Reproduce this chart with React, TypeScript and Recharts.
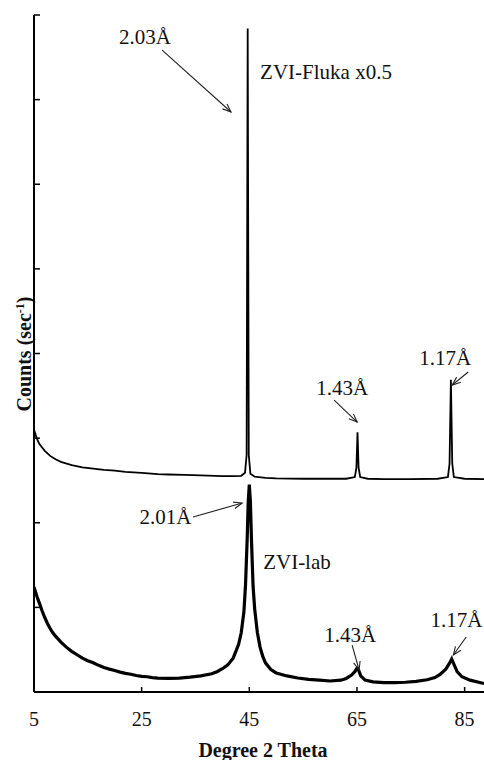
import React from "react";
import { LineChart, Line, XAxis, YAxis, ReferenceLine, ReferenceDot } from "recharts";

// ZVI-Fluka (scaled x0.5)
const flukaTheta = [
  5, 5.5, 6, 7, 8, 9, 10, 12, 14, 16, 18, 20, 22, 25, 28, 30, 33, 36, 40, 42, 43.5, 44.2, 44.5, 44.7,
  44.9, 45.2, 46, 48, 50, 55, 60, 63, 64.6, 64.9, 65.1, 65.3, 65.6, 67, 70, 75, 80, 81.9, 82.2, 82.45,
  82.7, 83, 85, 88.6,
];
const flukaCounts = [
  3100, 3000, 2930, 2850, 2790, 2750, 2720, 2680, 2655, 2640, 2625, 2615, 2600, 2590, 2575, 2570, 2565,
  2560, 2550, 2550, 2555, 2590, 2800, 7840, 2800, 2580, 2545, 2530, 2525, 2520, 2520, 2520, 2540, 2650,
  3070, 2650, 2540, 2520, 2515, 2515, 2520, 2540, 2700, 3690, 2700, 2540, 2520, 2515,
];

// ZVI-lab
const labTheta = [
  5, 5.3, 5.6, 6, 6.5, 7, 7.5, 8, 8.5, 9, 9.5, 10, 11, 12, 13, 14, 15, 16, 17, 18, 19, 20, 21, 22, 23,
  24, 25, 26, 27, 28, 30, 32, 34, 36, 38, 39, 40, 41, 42, 43, 43.5, 44, 44.3, 44.6, 44.8, 45, 45.2, 45.4,
  45.7, 46, 46.5, 47, 47.5, 48, 49, 50, 52, 54, 56, 58, 60, 62, 63, 64, 64.6, 65, 65.3, 65.7, 66.5, 68,
  70, 72, 74, 76, 78, 79.5, 80.5, 81.5, 82.2, 82.6, 83, 83.6, 84.5, 86, 88.6,
];
const labCounts = [
  1240, 1180, 1120, 1050, 960, 880, 810, 750, 700, 660, 625, 590, 530, 480, 440, 400, 370, 345, 315, 290,
  270, 255, 235, 220, 210, 195, 185, 180, 170, 165, 160, 165, 175, 190, 215, 240, 275, 320, 400, 560,
  700, 950, 1270, 1800, 2250, 2450, 2250, 1800, 1250, 980, 700, 530, 420, 345, 265, 225, 190, 165, 150,
  140, 130, 140, 160, 200, 240, 280, 260, 190, 140, 120, 110, 110, 115, 125, 145, 170, 210, 270, 340, 390,
  330, 240, 180, 140, 100,
];

const xTicks = [5, 25, 45, 65, 85];
const yTicks = [0, 1000, 2000, 3000, 4000, 5000, 6000, 7000, 8000];

// peak labels: text, anchor theta, anchor counts, arrow from -> to
const peakLabels = [
  { text: "2.03Å", x: 25.6, y: 7740, from: [28.8, 7586], to: [41.6, 6854] },
  { text: "1.43Å", x: 62.25, y: 3592, from: [60.76, 3450], to: [65.04, 3190] },
  { text: "1.17Å", x: 81.4, y: 3947, from: [85.67, 3781], to: [82.7, 3628] },
  { text: "2.01Å", x: 29.44, y: 2068, from: [34.55, 2068], to: [43.66, 2233] },
  { text: "1.43Å", x: 63.74, y: 674, from: [64.1, 555], to: [65.4, 260] },
  { text: "1.17Å", x: 83.5, y: 851, from: [85.3, 650], to: [82.9, 437] },
];
const seriesLabels = [
  { text: "ZVI-Fluka x0.5", x: 47.0, y: 7326 },
  { text: "ZVI-lab", x: 47.57, y: 1536 },
];

const fluka = flukaTheta.map((t, i) => ({ x: t, y: flukaCounts[i] }));
const lab = labTheta.map((t, i) => ({ x: t, y: labCounts[i] }));

const font = "'Liberation Serif', 'Times New Roman', serif";

const Arrow = (props: any) => {
  const { x1, y1, x2, y2 } = props;
  const a = Math.atan2(y2 - y1, x2 - x1);
  const h = 9;
  const w = 0.38;
  return (
    <g stroke="#222" strokeWidth={1.1} fill="none">
      <line x1={x1} y1={y1} x2={x2} y2={y2} />
      <polyline
        points={`${x2 - h * Math.cos(a - w)},${y2 - h * Math.sin(a - w)} ${x2},${y2} ${x2 - h * Math.cos(a + w)},${y2 - h * Math.sin(a + w)}`}
      />
    </g>
  );
};

const Label = (text: string, anchor: "middle" | "start") => (props: any) => (
  <text
    x={props.cx}
    y={props.cy}
    textAnchor={anchor}
    dominantBaseline="central"
    fontFamily={font}
    fontSize={21}
    fill="#111"
  >
    {text}
  </text>
);

const XTick = (props: any) => {
  const { x, y, payload } = props;
  return (
    <text x={x} y={y + 34} textAnchor="middle" fontFamily={font} fontSize={20} fill="#111">
      {payload.value}
    </text>
  );
};

const NoTick = () => null;

export default function App() {
  return (
    <div style={{ position: "absolute", left: 0, top: 0, background: "#fff" }}>
      <LineChart width={484} height={760} margin={{ top: 15, right: 0, bottom: 0, left: 0 }}>
        <XAxis
          dataKey="x"
          type="number"
          domain={[5, 88.6]}
          ticks={xTicks}
          height={68}
          tickSize={-5}
          tickMargin={5}
          tickLine={{ stroke: "#000", strokeWidth: 1.5 }}
          tick={<XTick />}
          axisLine={{ stroke: "#000", strokeWidth: 2 }}
          allowDataOverflow
        />
        <YAxis
          type="number"
          domain={[0, 8000]}
          ticks={yTicks}
          width={34}
          tickSize={-6}
          tickLine={{ stroke: "#000", strokeWidth: 1.5 }}
          tick={<NoTick />}
          axisLine={{ stroke: "#000", strokeWidth: 2 }}
          allowDataOverflow
        />
        <Line data={lab} dataKey="y" stroke="#000" strokeWidth={3.2} dot={false} isAnimationActive={false} />
        <Line data={fluka} dataKey="y" stroke="#000" strokeWidth={1.8} dot={false} isAnimationActive={false} />
        {peakLabels.map((p, i) => (
          <ReferenceLine
            key={"a" + i}
            segment={[{ x: p.from[0], y: p.from[1] }, { x: p.to[0], y: p.to[1] }]}
            shape={<Arrow />}
            ifOverflow="visible"
          />
        ))}
        {peakLabels.map((p, i) => (
          <ReferenceDot key={"t" + i} x={p.x} y={p.y} r={0} shape={Label(p.text, "middle")} ifOverflow="visible" />
        ))}
        {seriesLabels.map((s, i) => (
          <ReferenceDot key={"s" + i} x={s.x} y={s.y} r={0} shape={Label(s.text, "start")} ifOverflow="visible" />
        ))}
        <text
          transform="translate(31,354) rotate(-90)"
          textAnchor="middle"
          fontFamily={font}
          fontWeight="bold"
          fontSize={20}
          fill="#111"
        >
          Counts (sec
          <tspan dy={-7} fontSize={12}>
            -1
          </tspan>
          <tspan dy={7}>)</tspan>
        </text>
        <text x={263} y={757} textAnchor="middle" fontFamily={font} fontWeight="bold" fontSize={20} fill="#111">
          Degree 2 Theta
        </text>
      </LineChart>
    </div>
  );
}
